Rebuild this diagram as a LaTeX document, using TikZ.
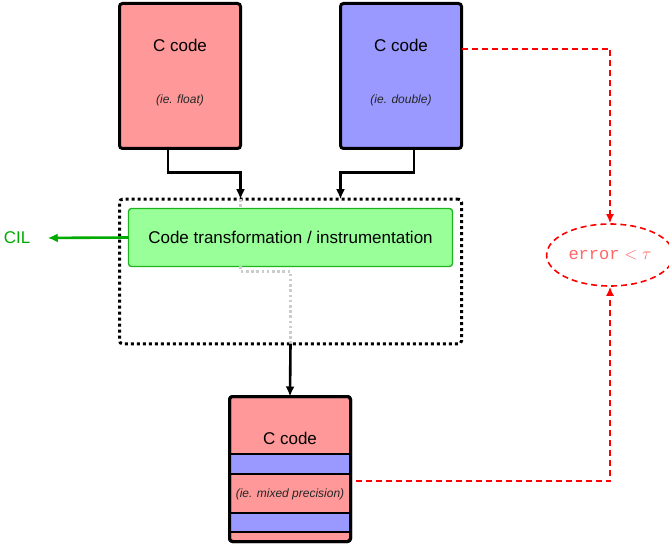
\documentclass[tikz,border=0pt]{standalone}
\usepackage{fontspec}
\setmainfont{Liberation Sans}
\setmonofont{Liberation Mono}
\usetikzlibrary{arrows.meta,positioning,shapes.geometric}

\definecolor{floatred}{RGB}{255,153,153}
\definecolor{doubleblue}{RGB}{153,153,255}
\definecolor{passgreen}{RGB}{153,255,153}
\definecolor{passedge}{RGB}{30,180,30}
\definecolor{cilgreen}{RGB}{0,170,0}

\begin{document}
\begin{tikzpicture}[x=1pt, y=-1pt,
    code/.style={rectangle, draw, line width=3pt, rounded corners=3pt,
        minimum width=121pt, minimum height=145pt, inner sep=0pt, outer sep=0pt},
    txt/.style={font=\fontsize{17}{20}\selectfont},
    note/.style={font=\fontsize{12}{14}\selectfont\itshape, text=black!85},
    flow/.style={line width=2.6pt, -{Latex[length=10pt,width=9pt]}},
    trace/.style={draw=black!20, line width=2.6pt, dash pattern=on 2.6pt off 2.6pt},
    check/.style={draw=red, line width=1.6pt, dash pattern=on 6pt off 4pt,
        -{Latex[length=9pt,width=8pt]}}]

    \useasboundingbox (0,0) rectangle (669,545);

    % input programs
    \node[code, fill=floatred] (float) at (180,76) {};
    \node[txt] (floatname) at (180,45) {C code};
    \node[note] (floatnote) at (180,100) {(ie. float)};
    \node[code, fill=doubleblue] (dbl) at (401,76) {};
    \node[txt] (dblname) at (401,45) {C code};
    \node[note] (dblnote) at (401,100) {(ie. double)};

    % transformation pass
    \node[rectangle, draw, line width=3pt, dash pattern=on 3pt off 3pt,
        rounded corners=3pt, minimum width=342pt, minimum height=144.5pt,
        outer sep=0pt] (frame) at (290.5,271.5) {};
    \node[rectangle, draw=passedge, fill=passgreen, line width=1.3pt,
        rounded corners=3pt, minimum width=324pt, minimum height=58pt,
        outer sep=0pt, txt] (pass) at (290.5,237.5)
        {Code transformation / instrumentation};
    \node[txt, text=cilgreen] (cil) at (17,238) {CIL};

    % mixed precision output
    \node[code, fill=floatred] (mixed) at (290,469) {};
    \foreach \top/\bot in {454/474, 513/532}
        \draw[fill=doubleblue, line width=1.2pt]
            (mixed.west |- 0,\top) rectangle (mixed.east |- 0,\bot);
    \draw[line width=3pt, rounded corners=3pt]
        (mixed.north west) rectangle (mixed.south east);
    \node[txt] (mixedname) at (290,438) {C code};
    \node[note] (mixednote) at (290,494) {(ie. mixed precision)};

    \node[ellipse, draw=red, line width=1.6pt, dash pattern=on 6pt off 4pt,
        minimum width=114pt, minimum height=62pt, text=red!60, txt]
        (err) at (610,255) {\texttt{error} $<\tau$};

    % connectors
    \draw[trace] (frame.north -| float.east) -- (pass.north -| float.east);
    \draw[trace] (pass.south -| float.east) -- ++(0,5) -| (frame.south);
    \draw[flow] ([xshift=-12pt]float.south) -- ++(0,24) -| (frame.north -| float.east);
    \draw[flow] ([xshift=13pt]dbl.south) -- ++(0,24) -| (frame.north -| dbl.west);
    \draw[flow] (frame.south) -- (mixed.north);
    \draw[draw=cilgreen, line width=2.6pt, shorten >=14pt,
        -{Latex[length=10pt,width=9pt]}] (pass.west) -- (cil.east);
    \draw[check] ([yshift=27pt]dbl.east) -| (err.north);
    \draw[check] ([yshift=-12pt,xshift=5pt]mixed.east) -| (err.south);
\end{tikzpicture}
\end{document}
